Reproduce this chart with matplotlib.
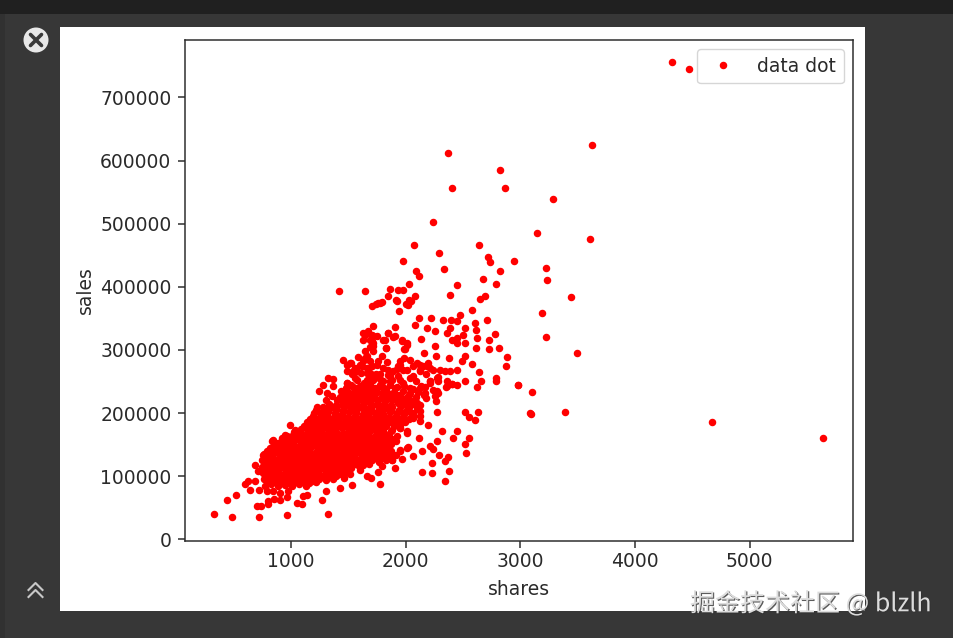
"""Scatter of sales against shares, as seen in a dark image viewer screenshot."""

import matplotlib

matplotlib.use("Agg")
import matplotlib.patheffects as pe
import matplotlib.pyplot as plt
from matplotlib.patches import Circle, Rectangle

W, H = 954, 638
SCALE = 1.35  # the screenshot is an upscaled default matplotlib figure

# (shares, sales)
far_points = [
    (4322, 756000), (4470, 745000), (4670, 186000), (5638, 161000), (3624, 625000),
    (2366, 612000), (2825, 584500), (2401, 556600), (2868, 556600), (3281, 539700),
    (2235, 503200), (3142, 485800), (3610, 475200), (2072, 466800), (2636, 466800),
    (2293, 453600), (1976, 441000), (2717, 447800), (2732, 438700), (2942, 441000),
    (2331, 428300), (3226, 430300), (3235, 410800), (2092, 424500), (2118, 417200),
    (2825, 425600), (2671, 412900), (2787, 404500), (2447, 402300), (2026, 404500),
    (1860, 396000), (1935, 395500), (1979, 395500), (2084, 385500), (2386, 387500),
    (2694, 385500), (2648, 381200), (1848, 385500), (1918, 379100), (3444, 383200),
    (3494, 295600), (3190, 359000), (3226, 321000), (3100, 233800), (3083, 200500),
    (3095, 198500), (3390, 201900), (2979, 244900), (1418, 394000), (1645, 394000),
    (2026, 378500), (2000, 373000), (1776, 374800), (1740, 372000),
]

upper_points = [
    (1704, 369000), (1762, 374300), (1791, 376000), (1945, 362200), (1921, 377000),
    (2023, 371700), (2044, 377000), (1718, 337400), (1907, 335800), (1645, 324000),
    (1718, 321500), (1631, 316200), (1704, 313600), (1718, 305700), (1849, 326800),
    (1893, 320500), (1820, 315200), (1829, 303000), (1965, 316200), (2014, 310900),
    (1988, 301500), (1645, 297800), (1718, 297800), (1457, 284600), (1587, 288800),
    (1660, 289800), (1791, 289800), (1834, 280800), (1747, 276600), (1951, 281900),
    (2038, 284600), (2096, 279300), (2198, 279300), (2212, 271400), (1486, 276600),
    (1558, 271400), (1486, 266000), (1573, 266000), (1660, 271400), (1718, 260800),
    (1863, 260800), (1951, 276600), (2009, 268700), (1892, 266000), (2125, 268700),
    (2154, 274000), (1326, 255500), (1369, 253900), (1282, 245000), (1369, 242300),
    (1247, 235400), (1486, 247600), (1558, 255500), (1660, 252900), (1718, 252900),
    (1311, 231800), (1355, 226500), (1305, 221200), (1224, 209600), (992, 181600),
    (1035, 173700), (846, 157800), (962, 164200), (890, 152600), (1675, 330000),
    (1690, 305000), (1760, 283000), (1620, 275000), (1780, 262000), (1930, 258000),
    (2060, 258000), (2260, 305700), (2163, 295100), (2264, 289800), (1530, 262000),
    (1610, 264000), (1625, 282000), (1690, 283000), (1520, 280000), (1800, 272000),
    (1850, 268000), (1985, 287000), (1920, 270000), (2060, 275000), (1690, 263000),
    (1745, 262000), (1800, 250000), (1880, 252000),
]

upper_band = [
    (1630, 326800), (1703, 324200), (1747, 321500), (1718, 311000), (1689, 316200),
    (1848, 326800), (1805, 316200), (1906, 321500), (1965, 313600), (2008, 308300),
    (1994, 301500), (1825, 303000), (1645, 287200), (1514, 279300), (1601, 276600),
    (1703, 274000), (1659, 263400), (1543, 266000), (1485, 247600), (1572, 252900),
    (1689, 252900), (1747, 258200), (1848, 260800), (1935, 274000), (1979, 268700),
    (1863, 250200), (1950, 252900), (2037, 255500), (2124, 266000), (2124, 276600),
    (2183, 274000), (2299, 268700), (2386, 266000), (2270, 255500), (2357, 250200),
    (2444, 245000), (2037, 239700), (2124, 239700), (2212, 247600), (1776, 242300),
    (1906, 239700), (2168, 231700), (2256, 226400), (2270, 234300), (2357, 242200),
    (2401, 246500), (2212, 250200), (2285, 250200), (2125, 194700), (2067, 200000),
    (2023, 210600), (2125, 213200), (2081, 221100), (2009, 171000), (1951, 176200),
    (2009, 144600), (1951, 141900), (1878, 126000), (1600, 236000), (1820, 232000),
    (1980, 247000), (2090, 250000), (1950, 227000), (2030, 228000), (2100, 208000),
    (2170, 241000), (1540, 241000), (1640, 247000), (1780, 254000),
]

right_points = [
    (2023, 146200), (1951, 139400), (2067, 131400), (2139, 139400), (2142, 106600),
    (2227, 105000), (2343, 91800), (2378, 108700), (2227, 120900), (2293, 134000),
    (2372, 130400), (2343, 123500), (2212, 147300), (2241, 143100), (2116, 160500),
    (2270, 156300), (2320, 171000), (2415, 160500), (2444, 171000), (2555, 160500),
    (2517, 151500), (2526, 136700), (2517, 201100), (2555, 193700), (2604, 189500),
    (2633, 201100), (2976, 243900), (2787, 255500), (2787, 250200), (2619, 240700),
    (2517, 250200), (2657, 250200), (2642, 264500), (2270, 201100), (2198, 181600),
    (2009, 168400), (1921, 163100), (1951, 176300), (2125, 186900), (2067, 192100),
    (2125, 202700), (2096, 215900), (2261, 218600), (2285, 231700), (2351, 241300),
    (2401, 246000), (2444, 267700), (2343, 266100), (2285, 257100), (2212, 250200),
    (2517, 289800), (2488, 281900), (2575, 278200), (2880, 288800), (2872, 274000),
    (2378, 286700), (2134, 317800), (2259, 329400), (2081, 340000), (2119, 350600),
    (2224, 350600), (2183, 334700), (2322, 346900), (2392, 347900), (2474, 355800),
    (2578, 363800), (2706, 346900), (2604, 342600), (2613, 332000), (2619, 318900),
    (2613, 303000), (2724, 301400), (2730, 316200), (2776, 324700), (2811, 303600),
    (2517, 311000), (2444, 311000), (2401, 316200), (2503, 324100), (2444, 318900),
    (2357, 326800), (2386, 334700), (2517, 334700), (2444, 345300), (2175, 262000),
    (2240, 268000), (2130, 243000), (2160, 228000), (2060, 238000),
]

low_points = [
    (329, 40600), (483, 35900), (440, 61700), (521, 70200), (718, 35900),
    (968, 38000), (1320, 40600), (707, 53300), (736, 53300), (803, 60000),
    (803, 55400), (852, 63900), (904, 62800), (968, 66500), (1050, 57500),
    (1093, 55400), (1271, 61700), (1305, 77000), (1108, 68000), (1137, 70600),
    (1532, 85500), (1776, 87600), (1660, 100700), (1695, 96600), (1427, 81300),
    (1462, 97100), (1907, 112900), (1762, 106100), (1791, 115600), (1602, 109200),
    (1631, 118200), (1878, 126000), (1965, 127200), (759, 134000), (686, 118200),
    (716, 107700), (628, 91800), (599, 88100), (686, 91800), (643, 78600),
    (724, 78600), (788, 75800), (840, 76000), (905, 74000), (970, 77000),
]

dense_core = [
    (770, 85000), (830, 87000), (890, 84000), (950, 86000), (1010, 85000), (1070, 88000),
    (1130, 85000), (765, 95000), (825, 93000), (885, 96000), (945, 94000), (1005, 96000),
    (1065, 94000), (1125, 95000), (1185, 93000), (1245, 96000), (1305, 94000), (1365, 95000),
    (760, 105000), (815, 103000), (875, 106000), (935, 104000), (995, 105000), (1055, 103000),
    (1115, 106000), (1175, 104000), (1235, 105000), (1295, 103000), (1355, 106000),
    (1415, 104000), (1475, 105000), (1515, 103000), (745, 115000), (805, 113000),
    (865, 116000), (925, 114000), (985, 115000), (1045, 113000), (1105, 116000),
    (1165, 114000), (1225, 115000), (1285, 113000), (1345, 116000), (1405, 114000),
    (1465, 115000), (1525, 113000), (1590, 116000), (750, 125000), (810, 123000),
    (870, 126000), (930, 124000), (990, 125000), (1050, 123000), (1110, 126000),
    (1170, 124000), (1230, 125000), (1290, 123000), (1350, 126000), (1410, 124000),
    (1470, 125000), (1530, 123000), (1590, 126000), (1650, 124000), (1710, 125000),
    (1770, 123000), (1830, 126000), (765, 135000), (825, 133000), (885, 136000),
    (945, 134000), (1005, 135000), (1065, 133000), (1125, 136000), (1185, 134000),
    (1245, 135000), (1305, 133000), (1365, 136000), (1425, 134000), (1485, 135000),
    (1545, 133000), (1605, 136000), (1665, 134000), (1725, 135000), (1785, 133000),
    (1845, 136000), (1915, 134000), (815, 145000), (875, 143000), (935, 146000),
    (995, 144000), (1055, 145000), (1115, 143000), (1175, 146000), (1235, 144000),
    (1295, 145000), (1355, 143000), (1415, 146000), (1475, 144000), (1535, 145000),
    (1595, 143000), (1655, 146000), (1715, 144000), (1775, 145000), (1855, 143000),
    (835, 155000), (895, 153000), (955, 156000), (1015, 154000), (1075, 155000),
    (1135, 153000), (1195, 156000), (1255, 154000), (1315, 155000), (1375, 153000),
    (1435, 156000), (1495, 154000), (1555, 155000), (1615, 153000), (1675, 156000),
    (1735, 154000), (1795, 155000), (1855, 153000), (1915, 156000), (950, 165000),
    (1010, 163000), (1070, 166000), (1130, 164000), (1190, 165000), (1250, 163000),
    (1310, 166000), (1370, 164000), (1430, 165000), (1490, 163000), (1550, 166000),
    (1610, 164000), (1670, 165000), (1730, 163000), (1790, 166000), (1855, 164000),
    (1085, 175000), (1145, 173000), (1205, 176000), (1265, 174000), (1325, 175000),
    (1385, 173000), (1445, 176000), (1505, 174000), (1565, 175000), (1625, 173000),
    (1685, 176000), (1745, 174000), (1805, 175000), (1885, 173000), (1140, 185000),
    (1200, 183000), (1260, 186000), (1320, 184000), (1380, 185000), (1440, 183000),
    (1500, 186000), (1560, 184000), (1620, 185000), (1680, 183000), (1740, 186000),
    (1800, 184000), (1860, 185000), (1920, 183000), (1995, 186000), (1195, 195000),
    (1255, 193000), (1315, 196000), (1375, 194000), (1435, 195000), (1495, 193000),
    (1555, 196000), (1615, 194000), (1675, 195000), (1735, 193000), (1795, 196000),
    (1855, 194000), (1915, 195000), (1975, 193000), (2060, 196000), (1215, 205000),
    (1275, 203000), (1335, 206000), (1395, 204000), (1455, 205000), (1515, 203000),
    (1575, 206000), (1635, 204000), (1695, 205000), (1755, 203000), (1815, 206000),
    (1875, 204000), (1945, 205000), (2005, 203000), (1330, 215000), (1390, 213000),
    (1450, 216000), (1510, 214000), (1570, 215000), (1630, 213000), (1690, 216000),
    (1750, 214000), (1810, 215000), (1870, 213000), (1930, 216000), (2000, 214000),
    (2060, 215000), (1430, 225000), (1490, 223000), (1550, 226000), (1610, 224000),
    (1670, 225000), (1730, 223000), (1790, 226000), (1850, 224000), (1915, 225000),
    (2000, 223000), (2090, 226000), (2175, 224000), (1435, 235000), (1500, 233000),
    (1560, 236000), (1625, 234000), (1690, 235000), (1750, 233000), (1830, 236000),
    (1900, 234000), (1975, 235000), (2110, 233000), (2235, 236000), (1520, 245000),
    (1600, 243000), (1690, 246000), (1775, 244000), (1860, 245000), (1985, 243000),
]

dense_fill = [
    (795, 90000), (860, 91000), (920, 89000), (975, 90000), (1040, 91000), (1095, 90000),
    (1155, 89000), (1215, 90000), (790, 100000), (855, 99000), (915, 101000), (975, 100000),
    (1035, 99000), (1095, 101000), (1155, 100000), (1215, 99000), (1275, 100000),
    (1335, 101000), (1395, 100000), (775, 110000), (835, 109000), (895, 111000),
    (955, 110000), (1015, 109000), (1075, 111000), (1135, 110000), (1195, 109000),
    (1255, 111000), (1315, 110000), (1375, 109000), (1435, 111000), (1495, 110000),
    (775, 120000), (835, 119000), (895, 121000), (955, 120000), (1015, 119000),
    (1075, 121000), (1135, 120000), (1195, 119000), (1255, 121000), (1315, 120000),
    (1375, 119000), (1435, 121000), (1495, 120000), (1555, 119000), (1620, 121000),
    (1680, 120000), (780, 130000), (840, 129000), (900, 131000), (960, 130000),
    (1020, 129000), (1080, 131000), (1140, 130000), (1200, 129000), (1260, 131000),
    (1320, 130000), (1380, 129000), (1440, 131000), (1500, 130000), (1560, 129000),
    (1620, 131000), (1680, 130000), (1740, 129000), (1800, 131000), (1860, 130000),
    (795, 140000), (855, 139000), (915, 141000), (975, 140000), (1035, 139000),
    (1095, 141000), (1155, 140000), (1215, 139000), (1275, 141000), (1335, 140000),
    (1395, 139000), (1455, 141000), (1515, 140000), (1575, 139000), (1635, 141000),
    (1695, 140000), (1755, 139000), (1815, 141000), (1875, 140000), (850, 150000),
    (910, 149000), (970, 151000), (1030, 150000), (1090, 149000), (1150, 151000),
    (1210, 150000), (1270, 149000), (1330, 151000), (1390, 150000), (1450, 149000),
    (1510, 151000), (1570, 150000), (1630, 149000), (1690, 151000), (1750, 150000),
    (1810, 149000), (1875, 151000), (925, 160000), (985, 159000), (1045, 161000),
    (1105, 160000), (1165, 159000), (1225, 161000), (1285, 160000), (1345, 159000),
    (1405, 161000), (1465, 160000), (1525, 159000), (1585, 161000), (1645, 160000),
    (1705, 159000), (1765, 161000), (1825, 160000), (1880, 159000), (1030, 170000),
    (1090, 169000), (1150, 171000), (1210, 170000), (1270, 169000), (1330, 171000),
    (1390, 170000), (1450, 169000), (1510, 171000), (1570, 170000), (1630, 169000),
    (1690, 171000), (1750, 170000), (1810, 169000), (1870, 171000), (1110, 180000),
    (1170, 179000), (1230, 181000), (1290, 180000), (1350, 179000), (1410, 181000),
    (1470, 180000), (1530, 179000), (1590, 181000), (1650, 180000), (1710, 179000),
    (1770, 181000), (1830, 180000), (1895, 179000), (1950, 181000), (1170, 190000),
    (1230, 189000), (1290, 191000), (1350, 190000), (1410, 189000), (1470, 191000),
    (1530, 190000), (1590, 189000), (1650, 191000), (1710, 190000), (1770, 189000),
    (1830, 191000), (1890, 190000), (1950, 189000), (2025, 191000), (1205, 200000),
    (1265, 199000), (1325, 201000), (1385, 200000), (1445, 199000), (1505, 201000),
    (1565, 200000), (1625, 199000), (1685, 201000), (1745, 200000), (1805, 199000),
    (1865, 201000), (1925, 200000), (1985, 199000), (2035, 201000), (1280, 210000),
    (1340, 209000), (1400, 211000), (1460, 210000), (1520, 209000), (1580, 211000),
    (1640, 210000), (1700, 209000), (1760, 211000), (1820, 210000), (1880, 209000),
    (1960, 211000), (2030, 210000), (1400, 220000), (1460, 219000), (1520, 221000),
    (1580, 220000), (1640, 219000), (1700, 221000), (1760, 220000), (1820, 219000),
    (1885, 221000), (1965, 220000), (2045, 219000), (1465, 230000), (1530, 229000),
    (1590, 231000), (1655, 230000), (1720, 229000), (1790, 231000), (1865, 230000),
    (1945, 229000), (2040, 231000), (1480, 240000), (1560, 239000), (1650, 241000),
    (1730, 240000), (1815, 239000), (1920, 241000),
]

all_points = (
    far_points + upper_points + upper_band + right_points + low_points + dense_core + dense_fill
)
shares = [p[0] for p in all_points]
sales = [p[1] for p in all_points]

x_ticks = [1000, 2000, 3000, 4000, 5000]
y_ticks = [0, 100000, 200000, 300000, 400000, 500000, 600000, 700000]

fig = plt.figure(figsize=(W / 100, H / 100), dpi=100, facecolor="#373737")

# viewer chrome, drawn in screenshot pixels
bg = fig.add_axes([0, 0, 1, 1], zorder=0)
bg.set_xlim(0, W)
bg.set_ylim(H, 0)
bg.axis("off")
bg.add_patch(Rectangle((0, 0), W, 14, color="#202020", lw=0))
bg.add_patch(Rectangle((0, 14), 5, H, color="#313131", lw=0))
bg.add_patch(Rectangle((60, 27), 805, 584, color="white", lw=0))
bg.add_patch(Circle((36, 40), 12.5, color="#e8e8e8", lw=0))
bg.plot([30.5, 41.5], [34.5, 45.5], color="#3a3a3a", lw=2.6, solid_capstyle="round")
bg.plot([30.5, 41.5], [45.5, 34.5], color="#3a3a3a", lw=2.6, solid_capstyle="round")
for top in (583, 590):
    bg.plot([28.5, 35.5, 42.5], [top + 7, top, top + 7], color="#c8c8c8", lw=1.5)
bg.text(
    690, 604, "掘金技术社区 @ blzlh",
    family=["Noto Sans CJK SC", "DejaVu Sans"],
    fontsize=18, color="#dcdcdc", va="center", ha="left",
    path_effects=[pe.withSimplePatchShadow(offset=(0.8, -0.8), shadow_rgbFace="#333333", alpha=0.8)],
)

ax = fig.add_axes(
    [185 / W, (H - 540.5) / H, (853 - 185) / W, (540.5 - 40) / H], zorder=1
)
ax.plot(
    shares, sales, "r.", label="data dot",
    markersize=8, markeredgewidth=1.4,
)
ax.set_xlim(76, 5900)
ax.set_ylim(-2000, 791000)
ax.set_xticks(x_ticks)
ax.set_yticks(y_ticks)
ax.tick_params(labelsize=10 * SCALE, length=3.5 * SCALE, width=0.8 * SCALE, labelcolor="#2a2a2a", color="#2a2a2a")
ax.tick_params(axis="y", pad=5)
ax.set_xlabel("shares", fontsize=10 * SCALE, color="#2a2a2a", labelpad=6.5)
ax.set_ylabel("sales", fontsize=10 * SCALE, color="#2a2a2a", labelpad=4)
for spine in ax.spines.values():
    spine.set_linewidth(0.8 * SCALE)
    spine.set_color("#2a2a2a")
legend = ax.legend(loc="upper right", fontsize=10 * SCALE, labelcolor="#2a2a2a")

fig.savefig("out.png", dpi=100, facecolor=fig.get_facecolor())
